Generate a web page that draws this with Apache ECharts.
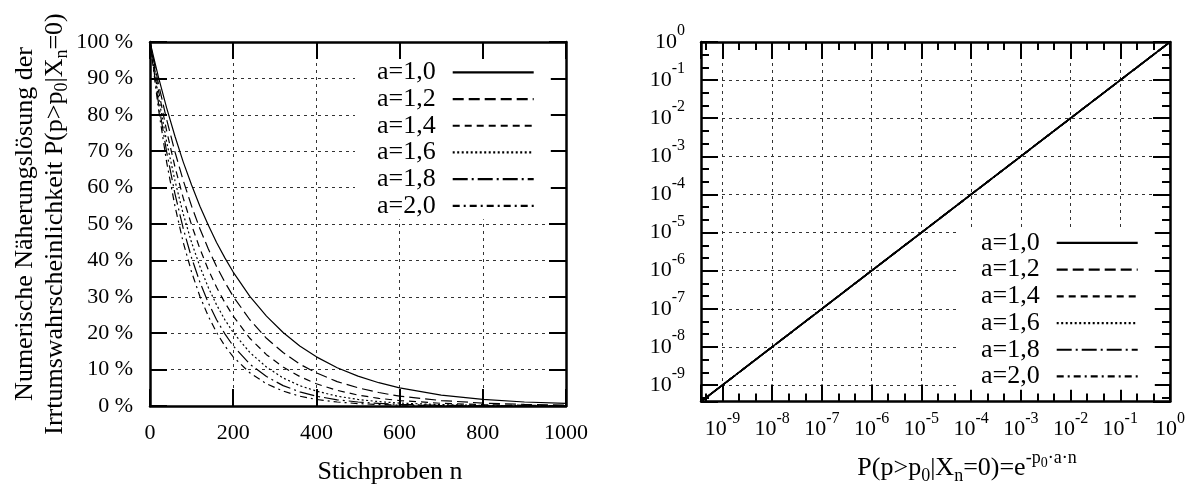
<!DOCTYPE html>
<html>
<head>
<meta charset="utf-8">
<script src="https://cdn.jsdelivr.net/npm/echarts@6/dist/echarts.min.js"></script>
<style>
html,body{margin:0;padding:0;background:#fff;}
#chart{width:1193px;height:490px;}
</style>
</head>
<body>
<div id="chart"></div>
<script>
// ---------- data ----------
const seriesNames = ['a=1,0', 'a=1,2', 'a=1,4', 'a=1,6', 'a=1,8', 'a=2,0'];

// left panel: sample size n vs. error probability in %
const nValues = [0, 20, 40, 60, 80, 100, 120, 140, 160, 180, 200, 240, 280, 320, 360, 400, 450, 500, 550, 600, 700, 800, 900, 1000];
const pA10 = [100, 90.5, 81.9, 74.1, 67.0, 60.7, 54.9, 49.7, 44.9, 40.7, 36.8, 30.1, 24.7, 20.2, 16.5, 13.5, 10.5, 8.2, 6.4, 5.0, 3.0, 1.8, 1.1, 0.7];
const pA12 = [100, 88.7, 78.7, 69.8, 61.9, 54.9, 48.7, 43.2, 38.3, 34.0, 30.1, 23.7, 18.6, 14.7, 11.5, 9.1, 6.7, 5.0, 3.7, 2.7, 1.5, 0.8, 0.45, 0.25];
const pA14 = [100, 86.9, 75.6, 65.7, 57.1, 49.7, 43.2, 37.5, 32.6, 28.4, 24.7, 18.6, 14.1, 10.7, 8.1, 6.1, 4.3, 3.0, 2.1, 1.5, 0.74, 0.37, 0.18, 0.09];
const pA16 = [100, 85.2, 72.6, 61.9, 52.7, 44.9, 38.3, 32.6, 27.8, 23.7, 20.2, 14.7, 10.7, 7.7, 5.6, 4.1, 2.7, 1.8, 1.2, 0.8, 0.37, 0.17, 0.07, 0.03];
const pA18 = [100, 83.5, 69.8, 58.3, 48.7, 40.7, 34.0, 28.4, 23.7, 19.8, 16.5, 11.5, 8.1, 5.6, 3.9, 2.7, 1.7, 1.1, 0.7, 0.45, 0.18, 0.07, 0.03, 0.01];
const pA20 = [100, 81.9, 67.0, 54.9, 44.9, 36.8, 30.1, 24.7, 20.2, 16.5, 13.5, 9.1, 6.1, 4.1, 2.7, 1.8, 1.1, 0.67, 0.41, 0.25, 0.09, 0.03, 0.01, 0.005];

// right panel: exp(-p0*a*n) vs. numerical solution (all curves coincide)
const rightXValues = [3.7e-10, 1e-9, 1e-8, 1e-7, 1e-6, 1e-5, 1e-4, 1e-3, 1e-2, 1e-1, 1];
const rightYValues = [3.7e-10, 1e-9, 1e-8, 1e-7, 1e-6, 1e-5, 1e-4, 1e-3, 1e-2, 1e-1, 1];

// tick labels
const leftXTicks = [0, 200, 400, 600, 800, 1000];
const leftYTicks = [0, 10, 20, 30, 40, 50, 60, 70, 80, 90, 100];
const rightExponents = [-9, -8, -7, -6, -5, -4, -3, -2, -1, 0];
const rightMin = 3.7e-10;
// minor ticks every third of a decade
const rightMinorTicks = [];
rightExponents.forEach(function (e) {
  [e - 2 / 3, e - 1 / 3].forEach(function (m) {
    const v = Math.pow(10, m);
    if (v > rightMin) rightMinorTicks.push(v);
  });
});

// ---------- styles ----------
const FONT = 'Liberation Serif';
const BLACK = '#000';
const dashTypes = ['solid', [11, 5], [7, 5], [2, 2.5], [15, 4, 2, 4], [7, 4, 2, 4]];
const axisLineStyle = {show: true, onZero: false, lineStyle: {color: BLACK, width: 2.5}};
const noLine = {show: false};
const tickStyle = {show: true, inside: true, length: 17, lineStyle: {color: BLACK, width: 2}};
const minorTickStyle = {show: true, inside: true, length: 8, customValues: rightMinorTicks, lineStyle: {color: BLACK, width: 2}};
const gridLineStyle = {show: true, lineStyle: {color: '#333', width: 1, type: [3, 4]}};
const labelBase = {color: BLACK, fontFamily: FONT, fontSize: 22};
const supRich = {sup: {fontSize: 16, fontFamily: FONT, color: BLACK, padding: [0, 0, 22, 0]}};

function powLabel(v) {
  const e = Math.log10(v);
  const r = Math.round(e);
  if (Math.abs(e - r) > 1e-6 || rightExponents.indexOf(r) < 0) return '';
  return '10{sup|' + r + '}';
}
function pctLabel(v) {
  return leftYTicks.indexOf(v) >= 0 ? v + ' %' : '';
}
function nLabel(v) {
  return leftXTicks.indexOf(v) >= 0 ? String(v) : '';
}

const leftStep = leftXTicks[1] - leftXTicks[0];
const leftYStep = leftYTicks[1] - leftYTicks[0];

const series = [];
const leftSets = [pA10, pA12, pA14, pA16, pA18, pA20];
leftSets.forEach(function (arr, k) {
  series.push({
    name: seriesNames[k], type: 'line', xAxisIndex: 0, yAxisIndex: 0,
    data: nValues.map(function (n, i) { return [n, arr[i]]; }),
    symbol: 'none', smooth: false,
    lineStyle: {color: BLACK, width: 1.2, type: dashTypes[k]},
    itemStyle: {color: BLACK}, z: 3
  });
});
seriesNames.forEach(function (name, k) {
  series.push({
    name: name, type: 'line', xAxisIndex: 2, yAxisIndex: 2,
    data: rightXValues.map(function (x, i) { return [x, rightYValues[i]]; }),
    symbol: 'none',
    lineStyle: {color: BLACK, width: 1.6, type: dashTypes[k]},
    itemStyle: {color: BLACK}, z: 3
  });
});

function legendCfg(left, top) {
  return {
    data: seriesNames, orient: 'vertical', left: left, top: top, align: 'right',
    itemWidth: 81, itemHeight: 10, itemGap: 0, padding: [0, 16, 0, 22],
    backgroundColor: '#fff', selectedMode: false,
    itemStyle: {opacity: 0, borderWidth: 0},
    lineStyle: {width: 2.2, color: BLACK},
    textStyle: {color: BLACK, fontFamily: FONT, fontSize: 26, lineHeight: 26.7, padding: [0, 12, 0, 0]}
  };
}

function logAxis(pos, extra) {
  return Object.assign({gridIndex: 1, type: 'log', logBase: 10, position: pos, min: rightMin, max: 1,
    axisLine: axisLineStyle, axisTick: tickStyle, splitLine: {show: false}, axisLabel: {show: false}}, extra || {});
}
function minorAxis(pos) {
  return {gridIndex: 1, type: 'log', logBase: 10, position: pos, min: rightMin, max: 1,
    axisLine: noLine, axisTick: minorTickStyle, splitLine: {show: false},
    axisLabel: {show: false}, z: 1};
}

const option = {
  animation: false,
  backgroundColor: '#fff',
  grid: [
    {left: 150, top: 42, width: 416, height: 365, containLabel: false},
    {left: 701, top: 42, width: 469, height: 365, containLabel: false}
  ],
  legend: [legendCfg(355, 59), legendCfg(959, 229.6)],
  xAxis: [
    {gridIndex: 0, type: 'value', position: 'bottom',
     min: leftXTicks[0], max: leftXTicks[leftXTicks.length - 1], interval: leftStep,
     axisLine: axisLineStyle, axisTick: tickStyle, splitLine: gridLineStyle,
     axisLabel: Object.assign({}, labelBase, {margin: 16, formatter: nLabel}),
     name: 'Stichproben n', nameLocation: 'middle', nameGap: 53,
     nameTextStyle: {color: BLACK, fontFamily: FONT, fontSize: 26, padding: [0, 0, 0, 64]}},
    {gridIndex: 0, type: 'value', position: 'top',
     min: leftXTicks[0], max: leftXTicks[leftXTicks.length - 1], interval: leftStep,
     axisLine: axisLineStyle, axisTick: tickStyle, splitLine: {show: false}, axisLabel: {show: false}},
    logAxis('bottom', {
      splitLine: gridLineStyle,
      axisLabel: Object.assign({}, labelBase, {margin: 9, formatter: powLabel, rich: supRich}),
      name: 'P(p>p{sub|0}|X{sub|n}=0)=e{sup|-p}{ss|0}{sup|·a·n}', nameLocation: 'middle', nameGap: 48,
      nameTextStyle: {color: BLACK, fontFamily: FONT, fontSize: 26, padding: [0, 0, 0, 63],
        rich: {
          sub: {fontSize: 18, fontFamily: FONT, color: BLACK, padding: [15, 0, 0, 0]},
          sup: {fontSize: 18, fontFamily: FONT, color: BLACK, padding: [0, 0, 20, 0]},
          ss: {fontSize: 14, fontFamily: FONT, color: BLACK, padding: [0, 0, 10, 0]}
        }}
    }),
    logAxis('top'),
    minorAxis('bottom'),
    minorAxis('top')
  ],
  yAxis: [
    {gridIndex: 0, type: 'value', position: 'left',
     min: leftYTicks[0], max: leftYTicks[leftYTicks.length - 1], interval: leftYStep,
     axisLine: axisLineStyle, axisTick: tickStyle, splitLine: gridLineStyle,
     axisLabel: Object.assign({}, labelBase, {margin: 17, formatter: pctLabel}),
     name: 'Numerische Näherungslösung der\nIrrtumswahrscheinlichkeit P(p>p{s|0}|X{s|n}=0)',
     nameLocation: 'middle', nameRotate: 90, nameGap: 80,
     nameTextStyle: {color: BLACK, fontFamily: FONT, fontSize: 26, lineHeight: 30, align: 'center',
       rich: {s: {fontSize: 18, fontFamily: FONT, color: BLACK, padding: [15, 0, 0, 0]}}}},
    {gridIndex: 0, type: 'value', position: 'right',
     min: leftYTicks[0], max: leftYTicks[leftYTicks.length - 1], interval: leftYStep,
     axisLine: axisLineStyle, axisTick: tickStyle, splitLine: {show: false}, axisLabel: {show: false}},
    logAxis('left', {
      splitLine: gridLineStyle,
      axisLabel: Object.assign({}, labelBase, {margin: 16, formatter: powLabel, rich: supRich})
    }),
    logAxis('right'),
    minorAxis('left'),
    minorAxis('right')
  ],
  series: series
};

const chart = echarts.init(document.getElementById('chart'), null, {renderer: 'canvas'});
chart.setOption(option);
</script>
</body>
</html>
